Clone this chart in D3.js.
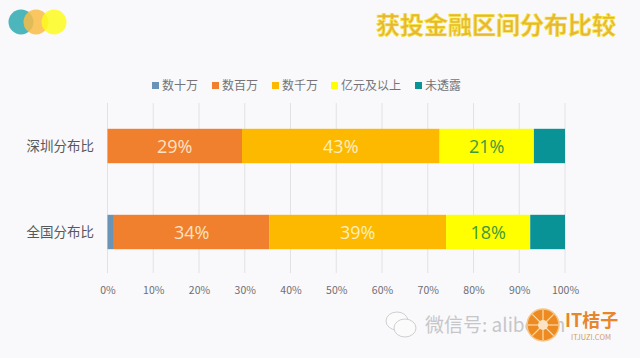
<!DOCTYPE html>
<html><head><meta charset="utf-8">
<style>html,body{margin:0;padding:0;background:#f9f9fb}svg{display:block}</style>
<script src="https://cdnjs.cloudflare.com/ajax/libs/d3/7.8.5/d3.min.js"></script>
</head><body><svg id="c" width="640" height="358"></svg>
<script>
const categories = ["深圳分布比","全国分布比"];
const seriesNames = ["数十万","数百万","数千万","亿元及以上","未透露"];
const shenzhen = [0,29.4,43.2,20.6,6.8];
const national = [1.4,34.0,38.6,18.4,7.6];
const colors = ["#6b93b5","#f07f2e","#fdb900","#ffff00","#0a9396"];
const labelColors = [null,"#fbe3c4","#fbeec0","#3f9a3a",null];
const ticks = [0,10,20,30,40,50,60,70,80,90,100];
const title = "获投金融区间分布比较";
const font = '"Noto Sans CJK SC","Noto Sans",sans-serif';

const svg = d3.select("#c").style("font-family",font);
svg.append("rect").attr("width",640).attr("height",358).attr("fill","#f9f9fb");

const x = d3.scaleLinear().domain([0,100]).range([107.5,565]);
const y = d3.scaleBand().domain(categories).range([103,275]).paddingInner(0.6).paddingOuter(0.3);

// decorative circles
const deco = [["#2fa9b0",21,.85],["#f9bd45",36,.85],["#fdfb1e",54,.85]];
svg.append("g").selectAll("circle").data(deco).join("circle")
  .attr("cx",d=>d[1]).attr("cy",22).attr("r",12.5).attr("fill",d=>d[0]).attr("fill-opacity",d=>d[2]);

// title
svg.append("text").attr("x",616).attr("y",34).attr("text-anchor","end")
  .attr("font-size",24).attr("font-weight",700).attr("fill","#e6b635")
  .attr("stroke","#f7e63c").attr("stroke-width",.6).text(title);

// gridlines
svg.append("g").selectAll("line").data(ticks).join("line")
  .attr("x1",d=>x(d)).attr("x2",d=>x(d)).attr("y1",103).attr("y2",273)
  .attr("stroke","#e2e1e4").attr("stroke-width",1);

// axis
const ax = svg.append("g").attr("transform","translate(0,275)")
  .call(d3.axisBottom(x).tickValues(ticks).tickFormat(d=>d+"%").tickSize(0).tickPadding(12));
ax.select(".domain").remove();
ax.selectAll("text").attr("font-size",10.5).attr("fill","#6e6e72").attr("font-family",font);

// category labels
const rows = [shenzhen,national];
svg.append("g").selectAll("text").data(categories).join("text")
  .attr("x",94).attr("y",d=>y(d)+y.bandwidth()/2).attr("dy","0.36em").attr("text-anchor","end")
  .attr("font-size",13.5).attr("fill","#58585c").text(d=>d);

// bars
categories.forEach((c,ri)=>{
  let cum=0;
  const segs = rows[ri].map((v,i)=>{const s={v,i,x0:cum,x1:cum+v};cum+=v;return s;});
  const g = svg.append("g");
  g.selectAll("rect").data(segs).join("rect")
    .attr("x",d=>x(d.x0)).attr("width",d=>x(d.x1)-x(d.x0))
    .attr("y",y(c)).attr("height",y.bandwidth()).attr("fill",d=>colors[d.i]);
  g.selectAll("text").data(segs.filter(d=>labelColors[d.i])).join("text")
    .attr("x",d=>x((d.x0+d.x1)/2)).attr("y",y(c)+y.bandwidth()/2+1).attr("dy","0.36em")
    .attr("text-anchor","middle").attr("font-size",18).attr("fill",d=>labelColors[d.i])
    .attr("font-family",'"Open Sans","Noto Sans",sans-serif')
    .text(d=>Math.round(d.v)+"%");
});

// legend
const lx = [152,212,272,331,415];
const lg = svg.append("g").selectAll("g").data(seriesNames).join("g")
  .attr("transform",(d,i)=>`translate(${lx[i]},86)`);
lg.append("rect").attr("y",-4).attr("width",7).attr("height",7).attr("fill",(d,i)=>colors[i]);
lg.append("text").attr("x",10).attr("y",0).attr("dy","0.36em").attr("font-size",12).attr("fill","#747478").text(d=>d);

// watermark
const wm = svg.append("g");
const ic = wm.append("g").attr("fill","#fbfbfc").attr("stroke","#cfcfd2").attr("stroke-width",1);
ic.append("ellipse").attr("cx",397).attr("cy",321).attr("rx",11).attr("ry",9);
ic.append("ellipse").attr("cx",405).attr("cy",328).attr("rx",11).attr("ry",9);
wm.append("text").attr("x",425).attr("y",332).attr("font-size",19).attr("fill","#c6c6c9").text("微信号: aliboom");
const lc = wm.append("g").attr("transform","translate(543,325)");
lc.append("circle").attr("r",16).attr("fill","#ee8a22").attr("stroke","#f4c88c").attr("stroke-width",1.5);
lc.selectAll("line").data(d3.range(8)).join("line")
  .attr("x2",d=>15*Math.cos(d*Math.PI/4)).attr("y2",d=>15*Math.sin(d*Math.PI/4))
  .attr("stroke","#f8dcae").attr("stroke-width",1.2);
lc.append("circle").attr("r",5).attr("fill","#fbe3c4");
wm.append("text").attr("x",565).attr("y",327).attr("font-size",18).attr("font-weight",700).attr("fill","#e8862a").text("IT桔子");
wm.append("text").attr("x",571).attr("y",340).attr("font-size",7.5).attr("fill","#d69a5a").text("ITJUZI.COM");
</script></body></html>
